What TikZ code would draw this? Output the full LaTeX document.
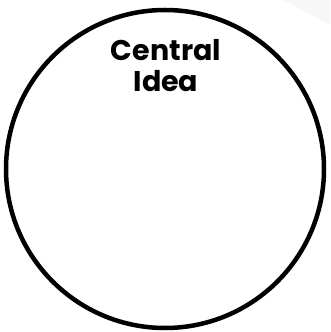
\documentclass[tikz,border=0pt]{standalone}
\usepackage{fontspec}
\setmainfont{Poppins}
\usepackage{tikz}
\usetikzlibrary{positioning}

\begin{document}
\begin{tikzpicture}[
    x=1pt, y=1pt,
    ring/.style={draw, circle, line width=4.5pt, minimum size=318pt, inner sep=0pt},
    title/.style={align=center, font=\fontsize{28.5}{31}\selectfont\bfseries}
]
\useasboundingbox (0,0) rectangle (330,332);
\fill[gray!6] (283,332) -- (330,332) -- (330,307) -- cycle;
\node[ring] (idea) at (165,163) {};
\node[title] (label) at (166,266) {Central\\Idea};
\end{tikzpicture}
\end{document}
